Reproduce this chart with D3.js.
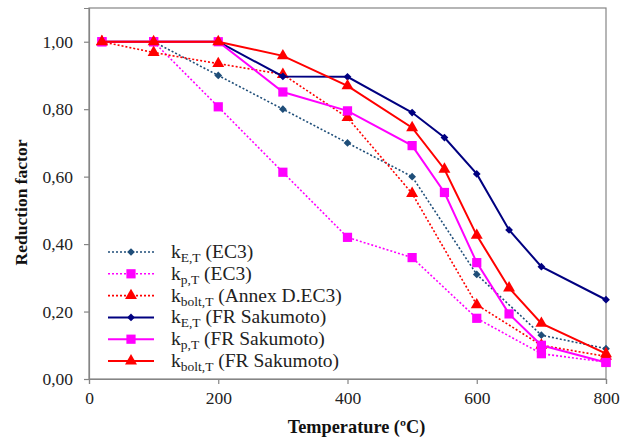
<!DOCTYPE html>
<html><head><meta charset="utf-8">
<script src="https://cdn.jsdelivr.net/npm/d3@7"></script>
<style>body{margin:0;background:#fff}svg{display:block}
svg text{font-family:"Liberation Serif","Times New Roman",Times,"DejaVu Serif",serif !important}</style>
</head><body><svg id="c" width="628" height="439"></svg>
<script>
const xTicks = [0, 200, 400, 600, 800];
const yTicks = [0, 0.2, 0.4, 0.6, 0.8, 1.0];
const tEC3 = [20, 100, 200, 300, 400, 500, 600, 700, 800];
const tFR = [20, 100, 200, 300, 400, 500, 550, 600, 650, 700, 800];
const kE_EC3 = [1.0, 1.0, 0.9, 0.8, 0.7, 0.6, 0.31, 0.13, 0.09];
const kp_EC3 = [1.0, 1.0, 0.807, 0.613, 0.42, 0.36, 0.18, 0.075, 0.05];
const kbolt_EC3 = [1.0, 0.968, 0.935, 0.903, 0.775, 0.55, 0.22, 0.1, 0.067];
const kE_FR = [1.0, 1.0, 1.0, 0.897, 0.896, 0.79, 0.716, 0.608, 0.442, 0.333, 0.235];
const kp_FR = [1.0, 1.0, 1.0, 0.851, 0.795, 0.692, 0.553, 0.345, 0.193, 0.10, 0.049];
const kbolt_FR = [1.0, 1.0, 1.0, 0.958, 0.869, 0.745, 0.622, 0.426, 0.27, 0.165, 0.075];

const series = [
  {x: tEC3, y: kE_EC3, color: "#1F4E79", dash: "2,2", w: 1.6, sym: "diamond", sub: "E,T", rest: " (EC3)"},
  {x: tEC3, y: kp_EC3, color: "#FF00FF", dash: "2,2", w: 1.6, sym: "square", sub: "p,T", rest: " (EC3)"},
  {x: tEC3, y: kbolt_EC3, color: "#FF0000", dash: "2,2", w: 1.6, sym: "triangle", sub: "bolt,T", rest: " (Annex D.EC3)"},
  {x: tFR, y: kE_FR, color: "#000080", dash: null, w: 2, sym: "diamond", sub: "E,T", rest: " (FR Sakumoto)"},
  {x: tFR, y: kp_FR, color: "#FF00FF", dash: null, w: 2, sym: "square", sub: "p,T", rest: " (FR Sakumoto)"},
  {x: tFR, y: kbolt_FR, color: "#FF0000", dash: null, w: 2, sym: "triangle", sub: "bolt,T", rest: " (FR Sakumoto)"}
];

const svg = d3.select("#c");
const L = 89, R = 606, T = 8, B = 379;
const x = d3.scaleLinear().domain([0, 800]).range([L, R]);
const y = d3.scaleLinear().domain([0, 1.1]).range([B, T]);

svg.append("rect").attr("x", L).attr("y", T).attr("width", R - L).attr("height", B - T)
  .attr("fill", "none").attr("stroke", "#858585").attr("stroke-width", 1.2);

const xa = svg.append("g").attr("transform", `translate(0,${B})`)
  .call(d3.axisBottom(x).tickValues(xTicks).tickSize(5).tickPadding(8).tickFormat(d3.format("d")));
const ya = svg.append("g").attr("transform", `translate(${L},0)`)
  .call(d3.axisLeft(y).tickValues(yTicks).tickSize(5).tickPadding(11).tickFormat(d => d.toFixed(2).replace(".", ",")));
[xa, ya].forEach(a => {
  a.attr("font-family", null);
  a.selectAll("path,line").attr("stroke", "#858585").attr("stroke-width", 1.2);
  a.selectAll("text").attr("font-size", 17.5).attr("fill", "#222");
});

const symSize = {diamond: 30, square: 85, triangle: 62};
function marker(g, s, cx, cy) {
  let path = s.sym === "triangle" ? d3.symbol().type(d3.symbolTriangle).size(symSize.triangle)()
    : d3.symbol().type(d3.symbolSquare).size(symSize[s.sym])();
  return g.append("path").attr("d", path).attr("fill", s.color)
    .attr("transform", `translate(${cx},${cy})` + (s.sym === "diamond" ? " rotate(45)" : ""));
}

const line = d3.line().x(d => x(d[0])).y(d => y(d[1]));
series.forEach(s => {
  const pts = s.x.map((v, i) => [v, s.y[i]]);
  svg.append("path").datum(pts).attr("d", line).attr("fill", "none")
    .attr("stroke", s.color).attr("stroke-width", s.w).attr("stroke-dasharray", s.dash);
  const g = svg.append("g");
  pts.forEach(p => marker(g, s, x(p[0]), y(p[1])));
});

const lg = svg.append("g");
series.forEach((s, i) => {
  const cy = 252 + i * 21.8;
  lg.append("line").attr("x1", 108).attr("x2", 154).attr("y1", cy).attr("y2", cy)
    .attr("stroke", s.color).attr("stroke-width", s.w).attr("stroke-dasharray", s.dash);
  marker(lg, s, 131, cy);
  const t = lg.append("text").attr("x", 171).attr("y", cy + 6)
    .attr("font-size", 19.5).attr("fill", "#222");
  t.append("tspan").text("k");
  t.append("tspan").attr("font-size", 13.5).attr("dy", 4).text(s.sub);
  t.append("tspan").attr("dy", -4).text(s.rest);
});

svg.append("text").attr("x", 356.5).attr("y", 433).attr("text-anchor", "middle")
  .attr("font-weight", "bold").attr("font-size", 18.3).attr("fill", "#111")
  .text("Temperature (ºC)");
svg.append("text").attr("transform", `translate(27,202.5) rotate(-90)`).attr("text-anchor", "middle")
  .attr("font-weight", "bold").attr("font-size", 17.5).attr("fill", "#111")
  .text("Reduction factor");
</script></body></html>
